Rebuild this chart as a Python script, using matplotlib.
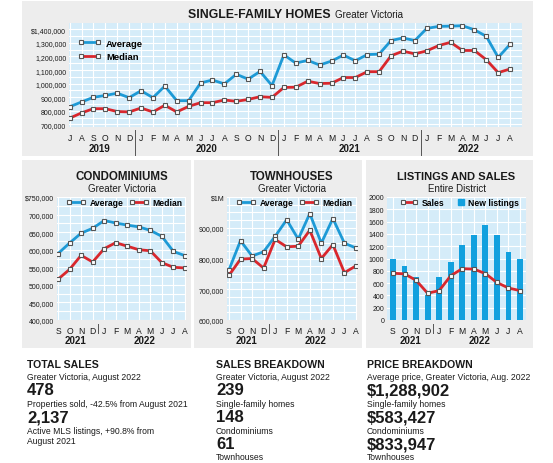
import matplotlib
matplotlib.use('Agg')
import matplotlib.pyplot as plt
from matplotlib.patches import Rectangle
from matplotlib.lines import Line2D
from matplotlib.transforms import blended_transform_factory

plt.rcParams['font.family'] = ['Liberation Sans Narrow', 'Liberation Sans', 'DejaVu Sans']

W, H = 553, 464

# ---- data (prices in dollars) ----
sfh_months = list('JASOND') + list('JFMAMJJASOND') * 2 + list('JFMAMJJA')
sfh_years = ['2019', '2020', '2021', '2022']
sfh_year_len = [6, 12, 12, 8]
sfh_avg = [830, 865, 900, 913, 930, 897, 948, 897, 982, 875, 875, 1005, 1027, 998,
           1069, 1033, 1090, 986, 1212, 1151, 1171, 1137, 1166, 1210, 1168, 1214,
           1217, 1317, 1336, 1317, 1406, 1421, 1423, 1426, 1396, 1348, 1193, 1289]
sfh_med = [746, 785, 816, 816, 795, 792, 821, 792, 841, 792, 833, 860, 860, 880,
           870, 884, 904, 899, 972, 974, 1018, 1001, 1003, 1045, 1045, 1088,
           1088, 1205, 1239, 1219, 1241, 1280, 1304, 1244, 1244, 1176, 1081, 1108]
sfh_avg = [v * 1000 for v in sfh_avg]
sfh_med = [v * 1000 for v in sfh_med]

months = list('SONDJFMAMJJA')
years = ['2021', '2022']
year_len = [4, 8]

condo_avg = [589, 619, 647, 661, 683, 676, 670, 665, 655, 638, 595, 583]
condo_med = [516, 544, 584, 565, 603, 620, 610, 600, 597, 563, 550, 548]
town_avg = [763, 858, 808, 822, 872, 926, 863, 946, 850, 930, 850, 834]
town_med = [745, 798, 800, 769, 862, 838, 840, 892, 800, 845, 754, 776]
condo_avg = [v * 1000 for v in condo_avg]
condo_med = [v * 1000 for v in condo_med]
town_avg = [v * 1000 for v in town_avg]
town_med = [v * 1000 for v in town_med]

new_listings = [990, 870, 695, 410, 695, 935, 1225, 1380, 1540, 1380, 1110, 985]
sales = [760, 750, 645, 435, 478, 720, 835, 828, 755, 610, 520, 478]

BLUE = '#1d9ad6'
RED = '#d9272d'
BG = '#d5ecf9'
PANEL = '#ededed'
TXT = '#1a1a1a'

fig = plt.figure(figsize=(W / 100, H / 100), dpi=100)
fig.patch.set_facecolor('white')


def rect(x0, y0, x1, y1):
    return [x0 / W, 1 - y1 / H, (x1 - x0) / W, (y1 - y0) / H]


def panel(x0, y0, x1, y1):
    fig.patches.append(Rectangle((x0 / W, 1 - y1 / H), (x1 - x0) / W, (y1 - y0) / H,
                                 transform=fig.transFigure, facecolor=PANEL,
                                 edgecolor='none', zorder=-5))


def ftext(x, y, s, **kw):
    kw.setdefault('color', TXT)
    fig.text(x / W, 1 - y / H, s, **kw)


def fmt(v, first):
    s = '{:,}'.format(int(v))
    return '$' + s if first else s


def setup(ax, labels, ylim, xlim, yticks, ylabels, ygrid, pad):
    ax.set_zorder(2)
    ax.set_facecolor(BG)
    for s in ax.spines.values():
        s.set_visible(False)
    ax.set_xlim(*xlim)
    ax.set_ylim(*ylim)
    ax.set_xticks(range(len(labels)))
    ax.set_xticklabels(labels, fontsize=6.2, color=TXT)
    ax.set_yticks(yticks)
    ax.set_yticklabels(ylabels, fontsize=5.0, color=TXT)
    ax.set_yticks(ygrid, minor=True)
    ax.tick_params(length=0, pad=2)
    ax.tick_params(axis='x', pad=pad)
    ax.tick_params(which='minor', length=0)
    ax.grid(True, which='both', color='white', lw=0.8)
    ax.set_axisbelow(True)


def years_row(ax, names, lens, sep_top, sep_bot, year_y):
    tr = blended_transform_factory(ax.transData, fig.transFigure)
    start = 0
    for i, (n, l) in enumerate(zip(names, lens)):
        ax.text(start + (l - 1) / 2, 1 - year_y / H, n, transform=tr, ha='center',
                va='center', fontsize=7, weight='bold', color=TXT)
        if i > 0:
            ax.add_line(Line2D([start - 0.5] * 2, [1 - sep_top / H, 1 - sep_bot / H],
                               transform=tr, color='#555555', lw=0.7, clip_on=False))
        start += l


def series(ax, y, color):
    ax.plot(range(len(y)), y, color=color, lw=2.0, marker='s', ms=3.2,
            mfc='white', mec='#555555', mew=0.8, zorder=3)


def legend_handle(color):
    return Line2D([], [], color=color, lw=2.0, marker='s', ms=3.2,
                  mfc='white', mec='#555555', mew=0.8)


# ---- panels ----
panel(22, 2, 533, 157)
panel(22, 161, 191, 349)
panel(194, 161, 362, 349)
panel(366, 161, 533, 349)

# ---- single-family homes ----
ax = fig.add_axes(rect(69, 24, 522, 127.5))
sfh_ticks = list(range(700000, 1500000, 100000))
setup(ax, sfh_months, (685000, 1446000), (-0.05, 38.0), sfh_ticks,
      [fmt(v, v == 1400000) for v in sfh_ticks],
      list(range(700000, 1450000, 50000)), 5)
series(ax, sfh_avg, BLUE)
series(ax, sfh_med, RED)
ax.legend([legend_handle(BLUE), legend_handle(RED)], ['Average', 'Median'],
          loc='upper left', bbox_to_anchor=(73 / W, 1 - 35 / H),
          bbox_transform=fig.transFigure, frameon=False, numpoints=2,
          handlelength=2.4, handletextpad=0.6, labelspacing=0.5, borderpad=0,
          prop={'weight': 'bold', 'size': 6.8})
years_row(ax, sfh_years, sfh_year_len, 131, 156, 149)
ftext(331, 18.5, 'SINGLE-FAMILY HOMES', ha='right', va='baseline', fontsize=8.8, weight='bold')
ftext(335, 18.5, 'Greater Victoria', ha='left', va='baseline', fontsize=7)

# ---- condominiums ----
ax = fig.add_axes(rect(57, 198, 186, 321))
c_ticks = list(range(400000, 800000, 50000))
setup(ax, months, (400000, 750000), (-0.09, 11.09), c_ticks,
      [fmt(v, v == 750000) for v in c_ticks], list(range(400000, 775000, 25000)), 4)
series(ax, condo_avg, BLUE)
series(ax, condo_med, RED)
ax.legend([legend_handle(BLUE), legend_handle(RED)], ['Average', 'Median'],
          loc='center left', bbox_to_anchor=(62 / W, 1 - 204 / H),
          bbox_transform=fig.transFigure, frameon=False, numpoints=2, ncol=2,
          handlelength=2.2, handletextpad=0.5, columnspacing=0.7, borderpad=0,
          prop={'weight': 'bold', 'size': 6.2})
years_row(ax, years, year_len, 325, 334, 341)
ftext(121.5, 177, 'CONDOMINIUMS', ha='center', va='center', fontsize=8.3, weight='bold')
ftext(121.5, 189, 'Greater Victoria', ha='center', va='center', fontsize=7)

# ---- townhouses ----
ax = fig.add_axes(rect(227, 198, 357, 321))
t_ticks = list(range(600000, 1100000, 100000))
setup(ax, months, (600000, 1000000), (-0.17, 11.09), t_ticks,
      ['$1M' if v == 1000000 else fmt(v, False) for v in t_ticks],
      list(range(600000, 1025000, 25000)), 4)
series(ax, town_avg, BLUE)
series(ax, town_med, RED)
ax.legend([legend_handle(BLUE), legend_handle(RED)], ['Average', 'Median'],
          loc='center left', bbox_to_anchor=(232 / W, 1 - 204 / H),
          bbox_transform=fig.transFigure, frameon=False, numpoints=2, ncol=2,
          handlelength=2.2, handletextpad=0.5, columnspacing=0.7, borderpad=0,
          prop={'weight': 'bold', 'size': 6.2})
years_row(ax, years, year_len, 325, 334, 341)
ftext(292, 177, 'TOWNHOUSES', ha='center', va='center', fontsize=8.3, weight='bold')
ftext(292, 189, 'Greater Victoria', ha='center', va='center', fontsize=7)

# ---- listings and sales ----
ax = fig.add_axes(rect(387, 198, 526, 321))
l_ticks = list(range(0, 2200, 200))
setup(ax, months, (0, 2000), (-0.52, 11.52), l_ticks, [str(v) for v in l_ticks],
      l_ticks, 4)
ax.bar(range(len(new_listings)), new_listings, width=0.5, color='#12a0de', zorder=2)
series(ax, sales, RED)
leg = ax.legend([legend_handle(RED)], ['Sales'], loc='center left',
                bbox_to_anchor=(396 / W, 1 - 204 / H), bbox_transform=fig.transFigure,
                frameon=False, numpoints=2, handlelength=2.0, handletextpad=0.5,
                borderpad=0, prop={'weight': 'bold', 'size': 6.2})
ax.add_artist(leg)
ax.legend([Line2D([], [], lw=0, marker='s', ms=5, color='#12a0de')], ['New listings'],
          loc='center right', bbox_to_anchor=(523 / W, 1 - 204 / H),
          bbox_transform=fig.transFigure, frameon=False, handlelength=0.6,
          handletextpad=0.5, borderpad=0, prop={'weight': 'bold', 'size': 6.2})
years_row(ax, years, year_len, 325, 334, 341)
ftext(456.5, 177, 'LISTINGS AND SALES', ha='center', va='center', fontsize=8.0, weight='bold')
ftext(456.5, 189, 'Entire District', ha='center', va='center', fontsize=7)

# ---- text blocks ----
cols = [27, 216, 367]
SUB = 6.2
BIG = 12
ftext(cols[0], 365, 'TOTAL SALES', va='center', fontsize=7.6, weight='bold')
ftext(cols[0], 378, 'Greater Victoria, August 2022', va='center', fontsize=SUB)
ftext(cols[0], 391, '478', va='center', fontsize=BIG, weight='bold')
ftext(cols[0], 405, 'Properties sold, -42.5% from August 2021', va='center', fontsize=SUB)
ftext(cols[0], 418, '2,137', va='center', fontsize=BIG, weight='bold')
ftext(cols[0], 432, 'Active MLS listings, +90.8% from', va='center', fontsize=SUB)
ftext(cols[0], 442, 'August 2021', va='center', fontsize=SUB)

ftext(cols[1], 365, 'SALES BREAKDOWN', va='center', fontsize=7.6, weight='bold')
ftext(cols[1], 378, 'Greater Victoria, August 2022', va='center', fontsize=SUB)
ftext(cols[1], 391, '239', va='center', fontsize=BIG, weight='bold')
ftext(cols[1], 405, 'Single-family homes', va='center', fontsize=SUB)
ftext(cols[1], 418, '148', va='center', fontsize=BIG, weight='bold')
ftext(cols[1], 432, 'Condominiums', va='center', fontsize=SUB)
ftext(cols[1], 445, '61', va='center', fontsize=BIG, weight='bold')
ftext(cols[1], 458, 'Townhouses', va='center', fontsize=SUB)

ftext(cols[2], 365, 'PRICE BREAKDOWN', va='center', fontsize=7.6, weight='bold')
ftext(cols[2], 378, 'Average price, Greater Victoria, Aug. 2022', va='center', fontsize=SUB)
ftext(cols[2], 391, '$1,288,902', va='center', fontsize=BIG, weight='bold')
ftext(cols[2], 405, 'Single-family homes', va='center', fontsize=SUB)
ftext(cols[2], 418, '$583,427', va='center', fontsize=BIG, weight='bold')
ftext(cols[2], 432, 'Condominiums', va='center', fontsize=SUB)
ftext(cols[2], 445, '$833,947', va='center', fontsize=BIG, weight='bold')
ftext(cols[2], 458, 'Townhouses', va='center', fontsize=SUB)

fig.savefig('out.png', dpi=100, facecolor='white')
